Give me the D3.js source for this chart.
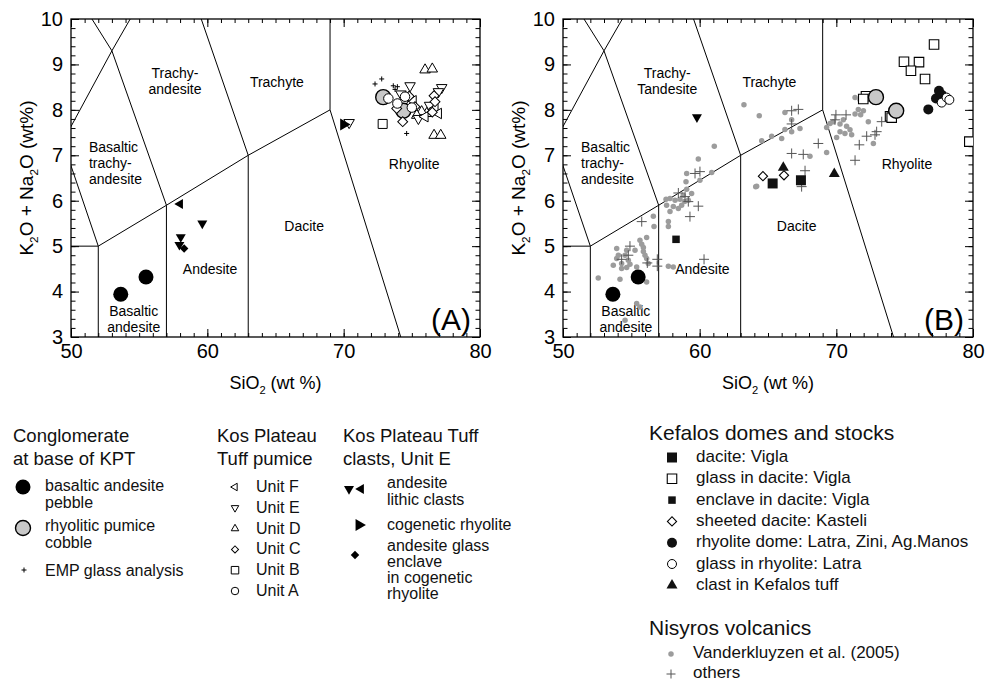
<!DOCTYPE html>
<html>
<head>
<meta charset="utf-8">
<script src="https://cdn.jsdelivr.net/npm/d3@7"></script>
<style>
  body { margin: 0; background: #fff; }
  svg { font-family: "Liberation Sans", Arial, sans-serif; }
</style>
</head>
<body>
<svg id="chart" width="1000" height="685"></svg>
<script>
// ---- data: [SiO2, Na2O + K2O] in wt% ----
let xTickLabels = [50, 60, 70, 80];
let yTickLabels = [3, 4, 5, 6, 7, 8, 9, 10];

// TAS field boundaries (Le Bas et al. 1986)
let fieldLines = [
  [[52, 3], [52, 5]],
  [[57, 3], [57, 5.9]],
  [[63, 3], [63, 7]],
  [[45, 5], [52, 5], [57, 5.9], [63, 7], [69, 8]],
  [[52, 5], [49.4, 7.3]],
  [[57, 5.9], [53, 9.3], [48.4, 11.5]],
  [[49.4, 7.3], [53, 9.3], [57.6, 11.7]],
  [[63, 7], [57.6, 11.7]],
  [[69, 8], [69, 13]],
  [[69, 8], [77.3, 0]]
];

// conglomerate at base of KPT (both panels)
let pebbles = [[53.65, 3.94], [55.5, 4.32]];
let cobbles = [[72.9, 8.28], [74.38, 7.98]];
let empGlass = [[72.3, 8.57], [72.79, 8.68], [73.64, 8.53], [73.77, 8.45], [73.94, 8.51], [74.62, 7.48]];

// Kos Plateau Tuff pumice
let unitF = [[76.7, 8.03], [75.97, 7.85], [76.95, 7.92], [75.1, 8.2]];
let unitE = [[74.87, 8.53], [77.19, 8.49], [76.95, 8.4], [75.48, 7.81], [74.2, 8.35], [76.3, 8.1], [70.4, 7.72]];
let unitD = [[75.97, 8.88], [76.5, 8.9], [76.63, 7.44], [77.12, 7.44], [76.09, 7.92], [75.72, 7.96], [75.36, 7.88], [74.9, 8.15]];
let unitC = [[74.33, 7.74], [75.23, 8.07], [76.63, 8.31], [76.7, 8.18], [73.89, 8.03], [76.5, 7.95], [74.8, 8.3]];
let unitB = [[72.86, 7.69]];
let unitA = [[73.28, 8.25], [74.5, 8.29], [73.94, 8.14], [75.0, 8.05]];

// Kos Plateau Tuff clasts, unit E
let lithicDown = [[59.63, 5.5], [58.05, 5.2], [57.95, 5.03]];
let lithicLeft = [[58.0, 5.93]];
let cogenetic = [[70.0, 7.68]];
let enclaveGlass = [[58.3, 4.95]];
let lithicDownB = [[59.8, 7.84]];

// Kefalos domes and stocks
let viglaDacite = [[65.34, 6.38], [67.41, 6.45]];
let viglaGlass = [[77.15, 9.44], [74.95, 9.06], [76.05, 9.05], [75.46, 8.86], [76.49, 8.68],
  [72.17, 8.3], [71.97, 8.24], [73.93, 7.86], [74.05, 7.83], [79.73, 7.3]];
let viglaEnclave = [[58.27, 5.15]];
let kasteli = [[64.63, 6.54], [66.17, 6.56]];
let domes = [[76.73, 8.01], [77.51, 8.42], [77.29, 8.25], [77.71, 8.33], [77.88, 8.22]];
let latraGlass = [[77.71, 8.16], [78.07, 8.27], [78.27, 8.22]];
let kefalosTuff = [[66.12, 6.73], [69.85, 6.59]];

// Nisyros volcanics
let vanderkluyzen = [
  [61.07, 7.2], [59.9, 6.92], [59.05, 6.6], [60.88, 6.62], [59.0, 6.42], [60.02, 6.45], [59.05, 6.25],
  [59.41, 6.16], [58.8, 6.12], [58.56, 6.03], [58.2, 6.01], [57.83, 6.05], [57.54, 6.03], [59.17, 6.01],
  [57.58, 5.9], [58.07, 5.87], [58.44, 5.83], [58.68, 5.9], [58.9, 5.98], [57.83, 5.76], [57.71, 5.54],
  [57.71, 5.43], [56.61, 5.66], [56.66, 5.43], [56.12, 5.19], [55.63, 5.13], [55.76, 5.04], [55.27, 4.91],
  [55.88, 4.88], [56.0, 4.8], [56.12, 4.73], [54.66, 4.91], [54.54, 4.8], [54.78, 4.69], [54.9, 4.6],
  [54.66, 4.53], [54.29, 4.62], [53.93, 4.73], [53.68, 4.58], [54.05, 4.8], [53.93, 4.95], [55.39, 4.54],
  [54.29, 4.51], [54.17, 4.27], [52.58, 4.3], [56.12, 4.21], [55.39, 3.74], [55.63, 3.66], [54.54, 3.37],
  [57.71, 4.56], [58.07, 4.54], [64.1, 6.31], [55.88, 4.97], [56.24, 4.62],
  [63.24, 8.11], [64.36, 7.87], [66.24, 7.94], [66.73, 7.78], [66.24, 7.57], [66.73, 7.52], [67.34, 7.59],
  [65.27, 7.42], [64.54, 7.32], [66.0, 7.37], [68.07, 6.98], [69.29, 7.06], [64.17, 6.32], [71.37, 8.27],
  [71.73, 8.22], [71.61, 8.01], [71.98, 7.98], [71.37, 7.91], [71.78, 7.89], [69.29, 7.61], [69.78, 7.74],
  [70.27, 7.69], [70.75, 7.64], [71.0, 7.56], [70.27, 7.52], [70.63, 7.48], [71.12, 7.45], [70.02, 7.39],
  [72.34, 7.74], [72.71, 7.26], [69.54, 7.7], [70.51, 7.78]
];
let nisyrosOthers = [
  [60.02, 6.64], [59.66, 6.6], [58.44, 6.17], [58.93, 6.09], [59.17, 5.98], [59.9, 5.88], [59.29, 5.65],
  [55.76, 5.54], [54.9, 5.0], [54.78, 4.8], [54.29, 4.71], [56.17, 4.63], [56.9, 4.71], [56.9, 4.56],
  [60.32, 4.71],
  [66.73, 7.98], [67.22, 8.01], [66.73, 7.69], [68.68, 7.26], [66.73, 7.04], [67.58, 7.02], [67.71, 6.66],
  [67.46, 6.31], [69.97, 7.89], [70.71, 7.89], [69.9, 7.78], [73.32, 7.74], [72.95, 7.52], [72.83, 7.45],
  [72.22, 7.42], [71.68, 7.23], [71.37, 6.89]
];

// ---- drawing ----
let svg = d3.select("#chart");
let y = d3.scaleLinear().domain([3, 10]).range([337, 19]);
let xA = d3.scaleLinear().domain([50, 80]).range([71, 480]);
let xB = d3.scaleLinear().domain([50, 80]).range([563, 973]);

function symbolPath(type, d) {
  if (type == "plus") {
    let h = d / 2;
    return `M${-h},0H${h}M0,${-h}V${h}`;
  }
  if (type == "circle") return d3.symbol().type(d3.symbolCircle).size(Math.PI * d * d / 4)();
  if (type == "square") return d3.symbol().type(d3.symbolSquare).size(d * d)();
  // triangle, d = width of the base
  let k = d / (2 * Math.sqrt(3));
  return d3.symbol().type(d3.symbolTriangle).size(k * k * 3 * Math.sqrt(3))();
}

let rotations = { up: 0, down: 180, left: -90, right: 90, diamond: 45 };

function drawMarks(g, x, data, o) {
  g.append("g")
    .selectAll("path")
    .data(data)
    .enter()
    .append("path")
    .attr("d", symbolPath(o.type, o.d))
    .attr("transform", p => `translate(${x(p[0])},${y(p[1])}) rotate(${rotations[o.dir] || 0})`)
    .attr("fill", o.fill || "none")
    .attr("stroke", o.stroke || "none")
    .attr("stroke-width", o.sw || 1);
}

let styles = {
  pebble: { type: "circle", d: 15, fill: "#000" },
  cobble: { type: "circle", d: 15, fill: "#c8c8c8", stroke: "#000", sw: 1.4 },
  emp: { type: "plus", d: 5, stroke: "#000", sw: 1 },
  unitF: { type: "triangle", dir: "left", d: 10.5, fill: "#fff", stroke: "#000" },
  unitE: { type: "triangle", dir: "down", d: 10.5, fill: "#fff", stroke: "#000" },
  unitD: { type: "triangle", dir: "up", d: 10.5, fill: "#fff", stroke: "#000" },
  unitC: { type: "square", dir: "diamond", d: 7, fill: "#fff", stroke: "#000" },
  unitB: { type: "square", d: 9, fill: "#fff", stroke: "#000" },
  unitA: { type: "circle", d: 9.5, fill: "#fff", stroke: "#000" },
  lithicDown: { type: "triangle", dir: "down", d: 10, fill: "#000" },
  lithicLeft: { type: "triangle", dir: "left", d: 10, fill: "#000" },
  cogenetic: { type: "triangle", dir: "right", d: 12, fill: "#000" },
  enclaveGlass: { type: "square", dir: "diamond", d: 6, fill: "#000" },
  viglaDacite: { type: "square", d: 10, fill: "#111" },
  viglaGlass: { type: "square", d: 9.5, fill: "#fff", stroke: "#000", sw: 1.1 },
  viglaEnclave: { type: "square", d: 7.5, fill: "#111" },
  kasteli: { type: "square", dir: "diamond", d: 6.5, fill: "#fff", stroke: "#000", sw: 1.1 },
  domes: { type: "circle", d: 10, fill: "#111" },
  latraGlass: { type: "circle", d: 9, fill: "#fff", stroke: "#000" },
  kefalosTuff: { type: "triangle", dir: "up", d: 11, fill: "#111" },
  vanderkluyzen: { type: "circle", d: 5.5, fill: "#9c9c9c" },
  others: { type: "plus", d: 10, stroke: "#555", sw: 1 }
};

let fieldNames = [
  ["Trachy-", "andesite"], ["Trachyte"], ["Basaltic", "trachy-", "andesite"],
  ["Andesite"], ["Dacite"], ["Basaltic", "andesite"], ["Rhyolite"]
];
let fieldNamesB = [
  ["Trachy-", "Tandesite"], ["Trachyte"], ["Basaltic", "trachy-", "andesite"],
  ["Andesite"], ["Dacite"], ["Basaltic", "andesite"], ["Rhyolite"]
];
// label anchor in data space, text anchor
let fieldLabelAt = [
  [57.63, 8.81, "middle"], [65.1, 8.61, "middle"], [51.32, 7.18, "start"],
  [60.2, 4.49, "middle"], [67.1, 5.44, "middle"], [54.6, 3.58, "middle"], [75.17, 6.81, "middle"]
];

function subText(sel, parts) {
  // parts: [text, isSub]
  let shift = 0;
  parts.forEach(p => {
    let t = sel.append("tspan").text(p[0]);
    if (p[1]) {
      t.attr("font-size", "0.62em").attr("dy", 5);
      shift = -5;
    } else if (shift) {
      t.attr("dy", shift);
      shift = 0;
    }
  });
}

function drawPanel(x, names, letter, id) {
  let g = svg.append("g");
  let [x0, x1] = x.range();
  let [yb, yt] = y.range();

  g.append("clipPath").attr("id", "clip" + id)
    .append("rect").attr("x", x0).attr("y", yt).attr("width", x1 - x0).attr("height", yb - yt);

  let line = d3.line().x(p => x(p[0])).y(p => y(p[1]));
  g.append("g").attr("clip-path", `url(#clip${id})`)
    .selectAll("path").data(fieldLines).enter().append("path")
    .attr("d", line).attr("fill", "none").attr("stroke", "#000").attr("stroke-width", 1);

  // ticks (all inward)
  let minorX = d3.range(50, 81, 1);
  let minorY = d3.range(30, 101, 2).map(v => v / 10);
  let axes = [
    d3.axisBottom(x).tickValues(minorX).tickSize(-4).tickFormat(""),
    d3.axisBottom(x).tickValues(xTickLabels).tickSize(-8).tickPadding(7).tickFormat(d3.format("d")),
    d3.axisTop(x).tickValues(minorX).tickSize(-4).tickFormat(""),
    d3.axisTop(x).tickValues(xTickLabels).tickSize(-8).tickFormat("")
  ];
  axes.forEach((a, i) => {
    let ag = g.append("g").attr("transform", `translate(0,${i < 2 ? yb : yt})`).call(a.tickSizeOuter(0));
    ag.select(".domain").remove();
    ag.selectAll("text").attr("font-size", 20).attr("fill", "#000").attr("font-family", null);
  });
  let yAxes = [
    d3.axisLeft(y).tickValues(minorY).tickSize(-4.5).tickFormat(""),
    d3.axisLeft(y).tickValues(yTickLabels).tickSize(-8).tickPadding(8).tickFormat(d3.format("d")),
    d3.axisRight(y).tickValues(minorY).tickSize(-4.5).tickFormat(""),
    d3.axisRight(y).tickValues(yTickLabels).tickSize(-8).tickFormat("")
  ];
  yAxes.forEach((a, i) => {
    let ag = g.append("g").attr("transform", `translate(${i < 2 ? x0 : x1},0)`).call(a.tickSizeOuter(0));
    ag.select(".domain").remove();
    ag.selectAll("text").attr("font-size", 20).attr("fill", "#000").attr("font-family", null);
  });
  g.selectAll(".tick line").attr("stroke", "#000");

  g.append("rect").attr("x", x0).attr("y", yt).attr("width", x1 - x0).attr("height", yb - yt)
    .attr("fill", "none").attr("stroke", "#000").attr("stroke-width", 1.3);

  // field names
  names.forEach((lines, i) => {
    let at = fieldLabelAt[i];
    let t = g.append("text").attr("font-size", 14).attr("text-anchor", at[2])
      .attr("x", x(at[0])).attr("y", y(at[1]) + 5);
    lines.forEach((s, j) => t.append("tspan").attr("x", x(at[0])).attr("dy", j ? 16 : 0).text(s));
  });

  g.append("text").attr("x", x1 - 9).attr("y", yb - 7).attr("text-anchor", "end")
    .attr("font-size", 30).text(`(${letter})`);

  // axis titles
  let xt = g.append("text").attr("x", (x0 + x1) / 2).attr("y", 389).attr("text-anchor", "middle")
    .attr("font-size", 18);
  subText(xt, [["SiO"], ["2", true], [" (wt %)"]]);
  let yt2 = g.append("text").attr("transform", `translate(${x0 - 38},${(yb + yt) / 2}) rotate(-90)`)
    .attr("text-anchor", "middle").attr("font-size", 19);
  subText(yt2, [["K"], ["2", true], ["O + Na"], ["2", true], ["O (wt%)"]]);

  return g.append("g").attr("clip-path", `url(#clip${id})`);
}

// panel A
let gA = drawPanel(xA, fieldNames, "A", "A");
drawMarks(gA, xA, pebbles, styles.pebble);
drawMarks(gA, xA, lithicDown, styles.lithicDown);
drawMarks(gA, xA, lithicLeft, styles.lithicLeft);
drawMarks(gA, xA, enclaveGlass, styles.enclaveGlass);
drawMarks(gA, xA, unitD, styles.unitD);
drawMarks(gA, xA, unitE, styles.unitE);
drawMarks(gA, xA, cogenetic, styles.cogenetic);
drawMarks(gA, xA, unitF, styles.unitF);
drawMarks(gA, xA, cobbles, styles.cobble);
drawMarks(gA, xA, unitC, styles.unitC);
drawMarks(gA, xA, unitB, styles.unitB);
drawMarks(gA, xA, unitA, styles.unitA);
drawMarks(gA, xA, empGlass, styles.emp);

// panel B
let gB = drawPanel(xB, fieldNamesB, "B", "B");
drawMarks(gB, xB, vanderkluyzen, styles.vanderkluyzen);
drawMarks(gB, xB, nisyrosOthers, styles.others);
drawMarks(gB, xB, pebbles, styles.pebble);
drawMarks(gB, xB, lithicDownB, styles.lithicDown);
drawMarks(gB, xB, viglaEnclave, styles.viglaEnclave);
drawMarks(gB, xB, viglaDacite, styles.viglaDacite);
drawMarks(gB, xB, kasteli, styles.kasteli);
drawMarks(gB, xB, kefalosTuff, styles.kefalosTuff);
drawMarks(gB, xB, viglaGlass, styles.viglaGlass);
drawMarks(gB, xB, cobbles, styles.cobble);
drawMarks(gB, xB, domes, styles.domes);
drawMarks(gB, xB, latraGlass, styles.latraGlass);

// ---- legend ----
let leg = svg.append("g").attr("fill", "#111");

function legendMark(px, py, o) {
  leg.append("path").attr("d", symbolPath(o.type, o.d))
    .attr("transform", `translate(${px},${py}) rotate(${rotations[o.dir] || 0})`)
    .attr("fill", o.fill || "none").attr("stroke", o.stroke || "none").attr("stroke-width", o.sw || 1);
}
function legendText(px, py, lines, size, lh) {
  let t = leg.append("text").attr("x", px).attr("y", py).attr("font-size", size);
  lines.forEach((s, j) => t.append("tspan").attr("x", px).attr("dy", j ? lh : 0).text(s));
}

let itemSize = 16;

// conglomerate
legendText(13, 442, ["Conglomerate", "at base of KPT"], 18.5, 23);
legendMark(23, 487, styles.pebble);
legendText(45, 491, ["basaltic andesite", "pebble"], itemSize, 16.5);
legendMark(23, 528, styles.cobble);
legendText(45, 531, ["rhyolitic pumice", "cobble"], itemSize, 16.5);
legendMark(24, 570, styles.emp);
legendText(45, 576, ["EMP glass analysis"], itemSize, 16);

// KPT pumice
legendText(217, 442, ["Kos Plateau", "Tuff pumice"], 18.5, 23);
let unitRows = [["Unit F", styles.unitF], ["Unit E", styles.unitE], ["Unit D", styles.unitD],
  ["Unit C", styles.unitC], ["Unit B", styles.unitB], ["Unit A", styles.unitA]];
unitRows.forEach((r, i) => {
  let st = Object.assign({}, r[1], { d: r[1].type == "square" && r[1].dir ? 5 : 7.5 });
  legendMark(235, 487 + i * 20.8, st);
  legendText(256, 492 + i * 20.8, [r[0]], itemSize, 16);
});

// KPT clasts
legendText(343, 442, ["Kos Plateau Tuff", "clasts, Unit E"], 18.5, 23);
legendMark(349, 489, styles.lithicDown);
legendMark(361, 489, styles.lithicLeft);
legendText(387, 488, ["andesite", "lithic clasts"], itemSize, 16.5);
legendMark(359, 525, styles.cogenetic);
legendText(387, 530, ["cogenetic rhyolite"], itemSize, 16);
legendMark(355, 555, styles.enclaveGlass);
legendText(387, 551, ["andesite glass", "enclave", "in cogenetic", "rhyolite"], itemSize, 16);

// Kefalos
legendText(649, 440, ["Kefalos domes and stocks"], 21, 23);
let kefRows = [["dacite: Vigla", styles.viglaDacite], ["glass in dacite: Vigla", styles.viglaGlass],
  ["enclave in dacite: Vigla", styles.viglaEnclave], ["sheeted dacite: Kasteli", styles.kasteli],
  ["rhyolite dome: Latra, Zini, Ag.Manos", styles.domes], ["glass in rhyolite: Latra", styles.latraGlass],
  ["clast in Kefalos tuff", styles.kefalosTuff]];
kefRows.forEach((r, i) => {
  legendMark(672, 457.5 + i * 21.3, r[1]);
  legendText(696, 462 + i * 21.3, [r[0]], 17, 20);
});

// Nisyros
legendText(649, 635, ["Nisyros volcanics"], 21, 23);
legendMark(671, 654, styles.vanderkluyzen);
legendText(693, 658, ["Vanderkluyzen et al. (2005)"], 17, 20);
legendMark(671, 674, Object.assign({}, styles.others, { d: 9 }));
legendText(693, 678, ["others"], 17, 20);
</script>
</body>
</html>
